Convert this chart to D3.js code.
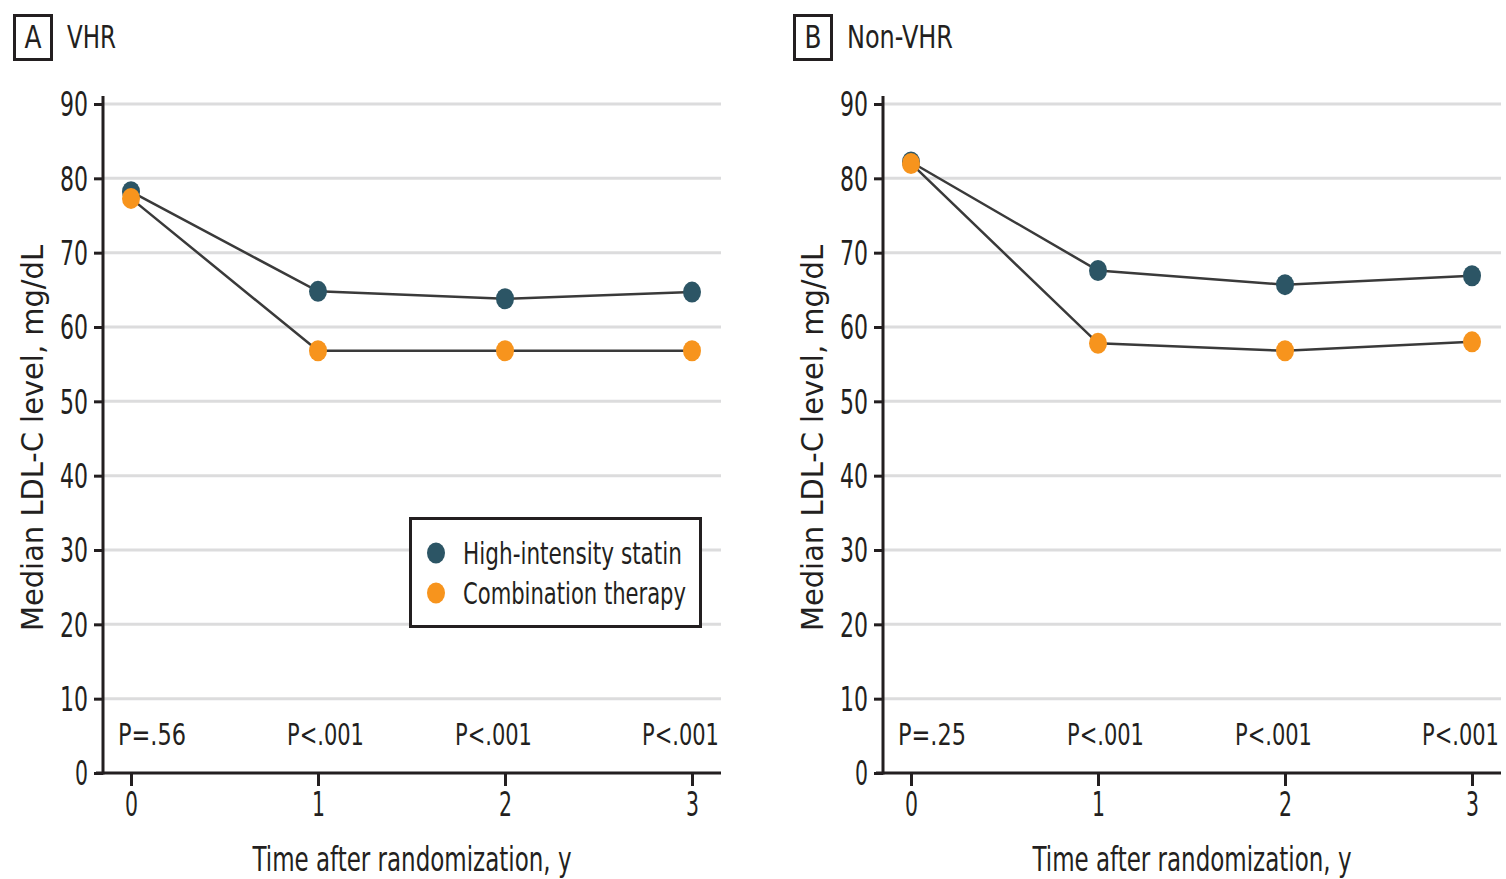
<!DOCTYPE html>
<html>
<head>
<meta charset="UTF-8">
<script src="https://d3js.org/d3.v7.min.js"></script>
<style>
  body { margin: 0; background: #fff; }
  svg text {
    font-family: 'Liberation Sans Narrow', 'DejaVu Sans Condensed', 'Roboto', sans-serif;
    fill: #231f20;
  }
  .grid line { stroke: #dcdcdd; stroke-width: 3; }
  .axis-line { stroke: #231f20; stroke-width: 3; }
  .link { fill: none; stroke: #3a3a3a; stroke-width: 2.5; }
</style>
</head>
<body>
<svg width="1506" height="879"></svg>
<script>
// data
var years = [0, 1, 2, 3];
var yTicks = [0, 10, 20, 30, 40, 50, 60, 70, 80, 90];
var seriesNames = ['High-intensity statin', 'Combination therapy'];
var seriesColors = ['#2c5565', '#f7941d'];

var panelLetters = ['A', 'B'];
var panelTitles = ['VHR', 'Non-VHR'];

// panel A (VHR)
var vhrStatin = [78.2, 64.8, 63.8, 64.7];
var vhrCombo = [77.3, 56.8, 56.8, 56.8];
var vhrP = ['P=.56', 'P<.001', 'P<.001', 'P<.001'];

// panel B (Non-VHR)
var nonStatin = [82.2, 67.6, 65.7, 66.9];
var nonCombo = [82.0, 57.8, 56.8, 58.0];
var nonP = ['P=.25', 'P<.001', 'P<.001', 'P<.001'];

var panels = [
  { letter: panelLetters[0], title: panelTitles[0], series: [vhrStatin, vhrCombo], p: vhrP, legend: true, dx: 0 },
  { letter: panelLetters[1], title: panelTitles[1], series: [nonStatin, nonCombo], p: nonP, legend: false, dx: 780 }
];

var svg = d3.select('svg');
var pOffsets = [-13, -31, -50, -50];

// squeeze a text to a target width with a horizontal scale
function squeeze(sel, widthFn) {
  sel.each(function(d, i) {
    var t = d3.select(this);
    var w = this.getComputedTextLength();
    var target = widthFn(d, i);
    var x0 = +t.attr('x');
    t.attr('x', x0 / (target / w))
     .attr('transform', 'scale(' + (target / w) + ',1)');
  });
}

panels.forEach(function(pn) {
  var g = svg.append('g').attr('transform', 'translate(' + pn.dx + ',0)');

  var x = d3.scaleLinear().domain([0, 3]).range([131, 692]);
  var y = d3.scaleLinear().domain([0, 90]).range([773, 104]);
  var left = 103, right = 721;

  // panel label box
  g.append('rect')
    .attr('x', 14.5).attr('y', 15.5).attr('width', 37).attr('height', 44)
    .attr('fill', 'none').attr('stroke', '#231f20').attr('stroke-width', 3);
  g.append('text')
    .attr('x', 33).attr('y', 48)
    .attr('text-anchor', 'middle')
    .style('font-size', '32px')
    .attr('textLength', 17)
    .attr('lengthAdjust', 'spacingAndGlyphs')
    .text(pn.letter);
  g.append('text')
    .attr('x', 67).attr('y', 48)
    .style('font-size', '32px')
    .attr('textLength', pn.title.length > 3 ? 106 : 49)
    .attr('lengthAdjust', 'spacingAndGlyphs')
    .text(pn.title);

  // gridlines
  g.append('g').attr('class', 'grid')
    .selectAll('line')
    .data(yTicks.filter(function(d) { return d > 0; }))
    .join('line')
      .attr('x1', left).attr('x2', right)
      .attr('y1', function(d) { return y(d); })
      .attr('y2', function(d) { return y(d); });

  // y axis
  var yAxis = g.append('g')
    .attr('transform', 'translate(' + left + ',0)')
    .call(d3.axisLeft(y).tickValues(yTicks).tickSize(9).tickPadding(6));
  yAxis.select('.domain').remove();
  yAxis.selectAll('.tick line').attr('stroke', '#231f20').attr('stroke-width', 3);
  yAxis.selectAll('.tick text')
    .style('font-size', '33px')
    .attr('fill', '#231f20')
    .attr('dy', '0.36em')
    .attr('textLength', function(d) { return d < 10 ? 13 : 28; })
    .attr('lengthAdjust', 'spacingAndGlyphs');

  // x axis
  var xAxis = g.append('g')
    .attr('transform', 'translate(0,' + y(0) + ')')
    .call(d3.axisBottom(x).tickValues(years).tickFormat(d3.format('d')).tickSize(13).tickPadding(6));
  xAxis.select('.domain').remove();
  xAxis.selectAll('.tick line').attr('stroke', '#231f20').attr('stroke-width', 3);
  xAxis.selectAll('.tick text')
    .style('font-size', '33px')
    .attr('fill', '#231f20')
    .attr('dy', '0.72em')
    .attr('textLength', 13)
    .attr('lengthAdjust', 'spacingAndGlyphs');

  // axis lines
  g.append('line').attr('class', 'axis-line')
    .attr('x1', left).attr('x2', left).attr('y1', 96).attr('y2', y(0) + 1.5);
  g.append('line').attr('class', 'axis-line')
    .attr('x1', 96).attr('x2', right).attr('y1', y(0)).attr('y2', y(0));

  // axis titles
  g.append('text')
    .attr('x', 412).attr('y', 871)
    .attr('text-anchor', 'middle')
    .style('font-size', '33px')
    .attr('textLength', 319)
    .attr('lengthAdjust', 'spacingAndGlyphs')
    .text('Time after randomization, y');

  g.append('text')
    .attr('transform', 'translate(43,438) rotate(-90)')
    .attr('text-anchor', 'middle')
    .style('font-size', '30px')
    .attr('textLength', 386)
    .attr('lengthAdjust', 'spacingAndGlyphs')
    .text('Median LDL-C level, mg/dL');

  // P values
  g.append('g').selectAll('text')
    .data(pn.p)
    .join('text')
      .attr('x', function(d, i) { return x(years[i]) + pOffsets[i]; })
      .attr('y', 745)
      .style('font-size', '31px')
      .text(function(d) { return d; })
      .call(squeeze, function(d) { return d.length > 5 ? 77 : 68; });

  // lines and points
  var line = d3.line()
    .x(function(d, i) { return x(years[i]); })
    .y(function(d) { return y(d); });

  g.append('g').selectAll('path')
    .data(pn.series)
    .join('path')
      .attr('class', 'link')
      .attr('d', function(d) { return line(d); });

  pn.series.forEach(function(s, si) {
    g.append('g').selectAll('ellipse')
      .data(s)
      .join('ellipse')
        .attr('cx', function(d, i) { return x(years[i]); })
        .attr('cy', function(d) { return y(d); })
        .attr('rx', 9)
        .attr('ry', 10.5)
        .attr('fill', seriesColors[si]);
  });

  // legend
  if (pn.legend) {
    var lg = g.append('g');
    lg.append('rect')
      .attr('x', 410.5).attr('y', 518.5).attr('width', 290).attr('height', 108)
      .attr('fill', '#fff').attr('stroke', '#231f20').attr('stroke-width', 3);
    var item = lg.selectAll('g.item')
      .data(seriesNames)
      .join('g').attr('class', 'item')
      .attr('transform', function(d, i) { return 'translate(0,' + (553 + i * 40) + ')'; });
    item.append('ellipse')
      .attr('cx', 436).attr('cy', 0).attr('rx', 9).attr('ry', 10.5)
      .attr('fill', function(d, i) { return seriesColors[i]; });
    item.append('text')
      .attr('x', 463).attr('y', 11)
      .style('font-size', '30px')
      .attr('textLength', function(d, i) { return i === 0 ? 219 : 223; })
      .attr('lengthAdjust', 'spacingAndGlyphs')
      .text(function(d) { return d; });
  }
});
</script>
</body>
</html>
